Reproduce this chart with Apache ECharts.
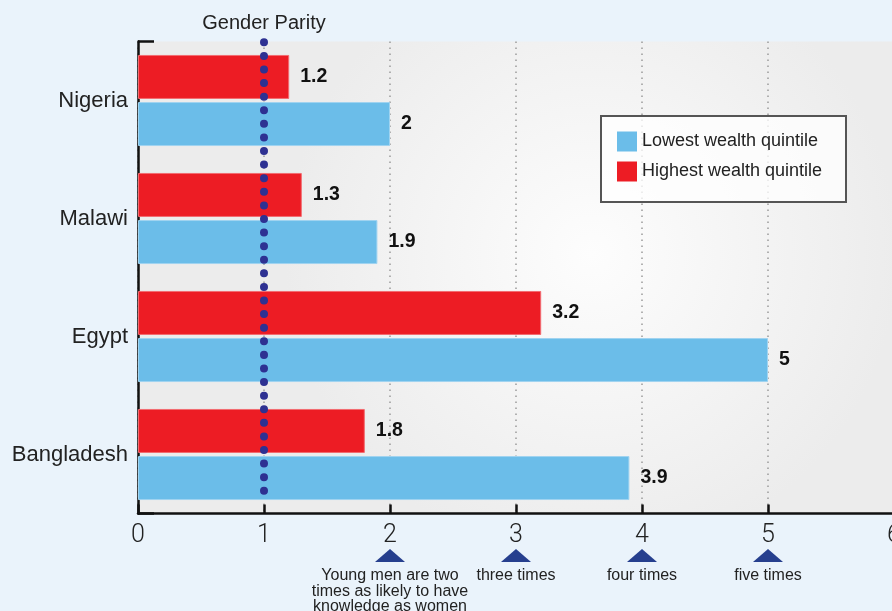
<!DOCTYPE html>
<html>
<head>
<meta charset="utf-8">
<script src="https://cdn.jsdelivr.net/npm/echarts@6/dist/echarts.min.js"></script>
<style>
  html, body { margin: 0; padding: 0; background: #eaf3fb; }
  #chart { width: 892px; height: 611px; }
</style>
</head>
<body>
<div id="chart"></div>
<script>
const categories = ['Nigeria', 'Malawi', 'Egypt', 'Bangladesh'];
const lowestQuintile = [2, 1.9, 5, 3.9];
const highestQuintile = [1.2, 1.3, 3.2, 1.8];
const tickLabels = ['0', '1', '2', '3', '4', '5', '6'];
const parityValue = 1;
const parityLabel = 'Gender Parity';
const annotationValues = [2, 3, 4, 5];
const annotationTexts = [
  'Young men are two\ntimes as likely to have\nknowledge as women',
  'three times',
  'four times',
  'five times'
];
const seriesNames = ['Lowest wealth quintile', 'Highest wealth quintile'];

const FONT = '"Liberation Sans", Arial, sans-serif';
const chart = echarts.init(document.getElementById('chart'), null, { renderer: 'canvas' });

const option = {
  backgroundColor: '#eaf3fb',
  animation: false,
  grid: {
    left: 138, right: -2, top: 41.5, bottom: 97.5,
    outerBoundsMode: 'none',
    containLabel: false,
    show: true, borderWidth: 0,
    backgroundColor: new echarts.graphic.RadialGradient(0.6, 0.45, 0.65, [
      { offset: 0, color: '#fdfdfd' },
      { offset: 1, color: '#ececec' }
    ])
  },
  legend: {
    data: seriesNames,
    orient: 'vertical',
    left: 617, top: 131.5,
    itemWidth: 20, itemHeight: 20, itemGap: 10,
    icon: 'rect',
    padding: 0,
    textStyle: { fontFamily: FONT, fontSize: 18, color: '#222', padding: [0, 0, 0, 0] },
    itemStyle: { borderWidth: 0 }
  },
  xAxis: {
    type: 'value',
    min: 0, max: 6, interval: 1,
    axisLine: { show: true, lineStyle: { color: '#111', width: 2.5 } },
    axisTick: { show: true, inside: true, length: 9, lineStyle: { color: '#111', width: 2.5 } },
    axisLabel: {
      margin: 10,
      fontFamily: 'Roboto, "Liberation Sans", sans-serif',
      fontWeight: 300,
      fontSize: 25,
      color: '#222',
      formatter: (v) => tickLabels[Math.round(v)] ?? ''
    },
    splitLine: {
      show: true,
      lineStyle: { color: '#9a9a9a', width: 1.5, type: [1.5, 4.5] }
    }
  },
  yAxis: {
    type: 'category',
    data: categories,
    inverse: true,
    axisLine: { show: true, lineStyle: { color: '#111', width: 2.5 } },
    axisTick: {
      show: true, inside: true, length: 16,
      interval: (idx) => idx === 0,
      lineStyle: { color: '#111', width: 2.5 }
    },
    axisLabel: { margin: 10, fontFamily: FONT, fontSize: 22, color: '#222' },
    splitLine: { show: false }
  },
  series: [
    {
      name: seriesNames[1],
      type: 'bar',
      data: highestQuintile,
      barWidth: 44,
      barGap: '7%',
      itemStyle: { color: '#ed1c24', borderColor: '#f26b70', borderWidth: 1 },
      label: {
        show: true, position: 'right', distance: 11,
        fontFamily: FONT, fontWeight: 'bold', fontSize: 19.5, color: '#111'
      },
      z: 3
    },
    {
      name: seriesNames[0],
      type: 'bar',
      data: lowestQuintile,
      barWidth: 44,
      barGap: '7%',
      itemStyle: { color: '#6bbde9', borderColor: '#9fd3f0', borderWidth: 1 },
      label: {
        show: true, position: 'right', distance: 11,
        fontFamily: FONT, fontWeight: 'bold', fontSize: 19.5, color: '#111'
      },
      z: 3
    }
  ],
  graphic: [
    {
      type: 'rect', z: 10,
      shape: { x: 601, y: 116, width: 245, height: 86 },
      style: { fill: 'rgba(255,255,255,0.75)', stroke: '#555', lineWidth: 2 }
    }
  ]
};
option.legend.z = 20;
chart.setOption(option);

// Derived annotation graphics positioned through the axis scale
const gridTop = 41.5, gridBottom = 611 - 97.5;
const px = (v) => chart.convertToPixel({ xAxisIndex: 0 }, v);
const extras = [];
const parityX = px(parityValue);
extras.push({
  type: 'line', z: 15, silent: true,
  shape: { x1: parityX, y1: gridTop + 0.8, x2: parityX, y2: gridBottom - 22 },
  style: { stroke: '#2e3192', lineWidth: 8, lineCap: 'round', lineDash: [0.01, 13.58] }
});
extras.push({
  type: 'text', z: 15,
  x: parityX, y: 23,
  style: { text: parityLabel, fill: '#222', font: '20px ' + FONT, align: 'center', verticalAlign: 'middle' }
});
annotationValues.forEach((v, i) => {
  const x = px(v);
  extras.push({
    type: 'polygon', z: 15,
    shape: { points: [[x - 15, 562], [x, 549], [x + 15, 562]] },
    style: { fill: '#263f8e' }
  });
  extras.push({
    type: 'text', z: 15,
    x: x, y: 568,
    style: {
      text: annotationTexts[i], fill: '#222', font: '16px ' + FONT,
      align: 'center', verticalAlign: 'top', lineHeight: 15.5
    }
  });
});
chart.setOption({ graphic: option.graphic.concat(extras) });
</script>
</body>
</html>
